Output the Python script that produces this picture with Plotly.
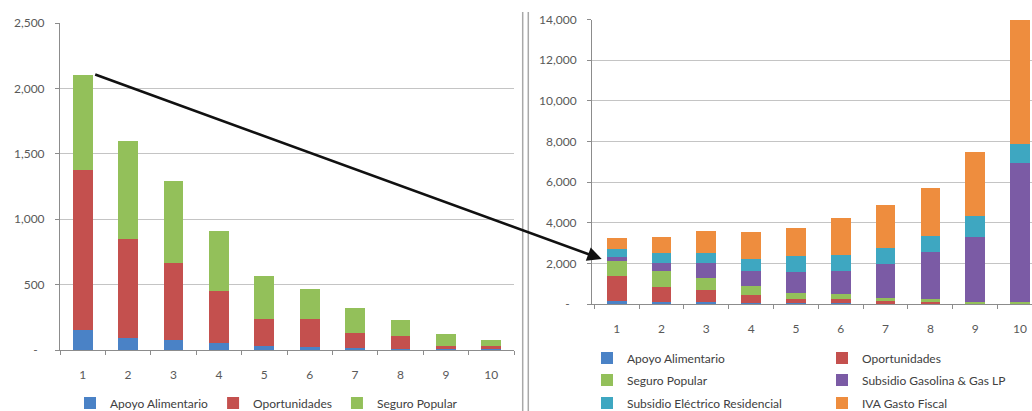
import plotly.graph_objects as go

# Deciles of household income
categories = ["1", "2", "3", "4", "5", "6", "7", "8", "9", "10"]

# Targeted social programs (left panel and bottom of right panel)
apoyo_alimentario = [150, 90, 75, 55, 30, 25, 15, 10, 5, 5]
oportunidades = [1230, 760, 590, 395, 205, 210, 115, 100, 25, 25]
seguro_popular = [720, 750, 630, 460, 330, 235, 190, 120, 90, 45]

# Generalised subsidies (right panel)
subsidio_gasolina = [230, 420, 700, 730, 1030, 1170, 1650, 2350, 3190, 6880]
subsidio_electrico = [400, 470, 500, 580, 770, 770, 800, 770, 1020, 920]
iva_gasto_fiscal = [520, 820, 1110, 1340, 1390, 1800, 2080, 2350, 3160, 6100]

left_tickvals = [0, 500, 1000, 1500, 2000, 2500]
left_ticktext = ["-\u2007", "500", "1,000", "1,500", "2,000", "2,500"]
right_tickvals = [0, 2000, 4000, 6000, 8000, 10000, 12000, 14000]
right_ticktext = ["-\u2007", "2,000", "4,000", "6,000", "8,000", "10,000", "12,000", "14,000"]

COLORS = {
    "Apoyo Alimentario": "#4a82c6",
    "Oportunidades": "#c4504e",
    "Seguro Popular": "#93c05a",
    "Subsidio Gasolina & Gas LP": "#7b5ba5",
    "Subsidio Eléctrico Residencial": "#3ea7c1",
    "IVA Gasto Fiscal": "#ee8d3e",
}

W, H = 1032, 411
FONT = "Lato, 'Open Sans', sans-serif"
TICK_COLOR = "#595959"
GRID = "#c4c4c4"
AXIS = "#8c8c8c"
BAR_W = 0.44

fig = go.Figure()

# Left panel: targeted programs
for name, vals in [("Apoyo Alimentario", apoyo_alimentario),
                   ("Oportunidades", oportunidades),
                   ("Seguro Popular", seguro_popular)]:
    fig.add_trace(go.Bar(x=categories, y=vals, name=name, width=BAR_W,
                         marker=dict(color=COLORS[name], line=dict(width=0)),
                         xaxis="x", yaxis="y", legend="legend"))

# Right panel: all programs and subsidies, legend laid out in three rows
right_series = [
    ("Apoyo Alimentario", apoyo_alimentario, "legend2"),
    ("Oportunidades", oportunidades, "legend2"),
    ("Seguro Popular", seguro_popular, "legend3"),
    ("Subsidio Gasolina & Gas LP", subsidio_gasolina, "legend3"),
    ("Subsidio Eléctrico Residencial", subsidio_electrico, "legend4"),
    ("IVA Gasto Fiscal", iva_gasto_fiscal, "legend4"),
]
for name, vals, leg in right_series:
    fig.add_trace(go.Bar(x=categories, y=vals, name=name, width=BAR_W,
                         marker=dict(color=COLORS[name], line=dict(width=0)),
                         xaxis="x2", yaxis="y2", legend=leg))

def px_x(v):
    return v / W

def px_y(v):
    return (H - v) / H

xaxis_common = dict(type="category", showgrid=False, showline=True, linecolor=AXIS,
                    linewidth=1, ticks="outside", tickson="boundaries", ticklen=4,
                    tickcolor=AXIS, tickfont=dict(family=FONT, size=12, color=TICK_COLOR),
                    ticklabelstandoff=14, fixedrange=True)
yaxis_common = dict(showgrid=True, gridcolor=GRID, gridwidth=1, showline=True,
                    linecolor=AXIS, linewidth=1, ticks="outside", ticklen=4,
                    tickcolor=AXIS, tickfont=dict(family=FONT, size=12, color=TICK_COLOR),
                    zeroline=False, ticklabelstandoff=8, fixedrange=True)

legend_common = dict(orientation="h", xanchor="left", yanchor="middle",
                     font=dict(family=FONT, size=12, color="#404040"),
                     bgcolor="rgba(0,0,0,0)", borderwidth=0, traceorder="normal")

fig.update_layout(
    width=W, height=H,
    margin=dict(l=0, r=0, t=0, b=0, autoexpand=False),
    paper_bgcolor="white", plot_bgcolor="white",
    barmode="stack",
    xaxis=dict(xaxis_common, domain=[px_x(60), px_x(514)], range=[-0.5, 9.5], anchor="y"),
    yaxis=dict(yaxis_common, domain=[px_y(350), px_y(23)], range=[0, 2500],
               tickvals=left_tickvals, ticktext=left_ticktext, anchor="x"),
    xaxis2=dict(xaxis_common, domain=[px_x(592), 1.0], range=[-0.551, 9.268], anchor="y2"),
    yaxis2=dict(yaxis_common, domain=[px_y(304), px_y(19.5)], range=[0, 14000],
                tickvals=right_tickvals, ticktext=right_ticktext, anchor="x2"),
    legend=dict(legend_common, x=px_x(70), y=px_y(403)),
    legend2=dict(legend_common, x=px_x(587), y=px_y(358), entrywidth=190),
    legend3=dict(legend_common, x=px_x(587), y=px_y(380), entrywidth=190),
    legend4=dict(legend_common, x=px_x(587), y=px_y(403), entrywidth=190),
    showlegend=True,
)

# Double rule separating the two panels
for xp in (522.7, 528.3):
    fig.add_shape(type="line", xref="paper", yref="paper",
                  x0=px_x(xp), x1=px_x(xp), y0=0, y1=px_y(12),
                  line=dict(color="#a8a8a8", width=1.5))

# Arrow from the top of decile 1 (left) to decile 1 (right)
fig.add_annotation(xref="paper", yref="paper", x=px_x(601.7), y=px_y(259),
                   axref="pixel", ayref="pixel", ax=-508, ay=-185,
                   text="", showarrow=True, arrowhead=2, arrowsize=1.1,
                   arrowwidth=2.6, arrowcolor="#111111", standoff=0)

fig.write_html("out.html")
